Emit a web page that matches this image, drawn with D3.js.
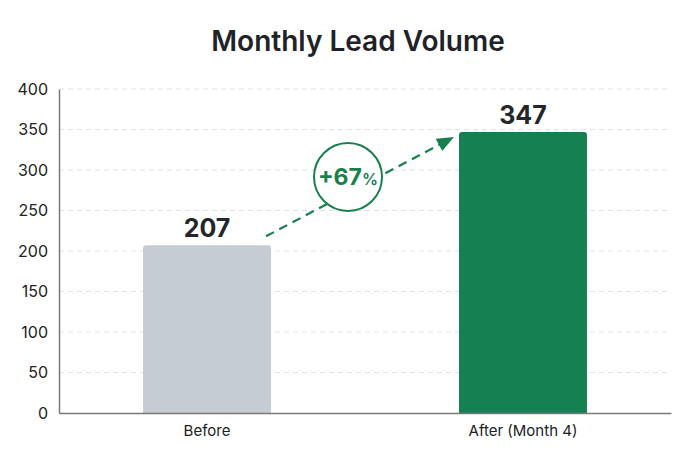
<!DOCTYPE html>
<html>
<head>
<meta charset="utf-8">
<script src="https://cdn.jsdelivr.net/npm/d3@7"></script>
<style>
  body { margin: 0; background: #fff; }
  text { font-family: Inter, "Noto Sans", sans-serif; }
</style>
</head>
<body>
<svg id="chart" width="700" height="466"></svg>
<script>
// chart data
const categories = ["Before", "After (Month 4)"];
const leads = [207, 347];
const yTicks = [0, 50, 100, 150, 200, 250, 300, 350, 400];
const changeLabel = "+67";

const barColors = ["#c6ccd4", "#158152"];
const green = "#17804c";

const margin = { top: 89, right: 29, bottom: 53, left: 59 };
const width = 700, height = 466;

let svg = d3.select("#chart");

let x = d3.scaleBand()
  .domain(categories)
  .range([margin.left, width - margin.right])
  .paddingInner(0.595)
  .paddingOuter(0.266);

let y = d3.scaleLinear()
  .domain([0, 400])
  .range([height - margin.bottom, margin.top]);

// title
svg.append("text")
  .attr("x", 358)
  .attr("y", 51)
  .attr("text-anchor", "middle")
  .attr("font-size", 28)
  .attr("font-weight", 600)
  .attr("fill", "#1f2328")
  .text("Monthly Lead Volume");

// dashed gridlines
svg.append("g")
  .selectAll("line")
  .data(yTicks.filter(d => d > 0))
  .enter()
  .append("line")
  .attr("x1", margin.left)
  .attr("x2", width - margin.right)
  .attr("y1", d => y(d))
  .attr("y2", d => y(d))
  .attr("stroke", "#e2e2e2")
  .attr("stroke-dasharray", "5,4");

// y axis
let yAxis = svg.append("g")
  .attr("transform", `translate(${margin.left},0)`)
  .call(d3.axisLeft(y).tickValues(yTicks).tickSize(0).tickPadding(11));
yAxis.select(".domain").attr("stroke", "#7a7a7a").attr("stroke-width", 1.5);
yAxis.selectAll("text")
  .attr("font-size", 16)
  .attr("fill", "#222")
  .style("font-family", "Inter, sans-serif");

// bars, rounded top corners
const r = 3;
svg.append("g")
  .selectAll("path")
  .data(leads)
  .enter()
  .append("path")
  .attr("fill", (d, i) => barColors[i])
  .attr("d", (d, i) => {
    let x0 = x(categories[i]), x1 = x0 + x.bandwidth();
    let y0 = y(d), yb = y(0);
    return `M${x0},${yb} V${y0 + r} Q${x0},${y0} ${x0 + r},${y0} H${x1 - r} Q${x1},${y0} ${x1},${y0 + r} V${yb} Z`;
  });

// value labels
svg.append("g")
  .selectAll("text")
  .data(leads)
  .enter()
  .append("text")
  .attr("x", (d, i) => x(categories[i]) + x.bandwidth() / 2)
  .attr("y", d => y(d) - 8)
  .attr("text-anchor", "middle")
  .attr("font-size", 25)
  .attr("font-weight", 700)
  .attr("fill", "#23262b")
  .text(d => d);

// x axis
let xAxis = svg.append("g")
  .attr("transform", `translate(0,${y(0)})`)
  .call(d3.axisBottom(x).tickSize(0).tickPadding(12));
xAxis.select(".domain").attr("stroke", "#7a7a7a").attr("stroke-width", 1.5);
xAxis.selectAll("text")
  .attr("font-size", 15)
  .attr("fill", "#222")
  .style("font-family", "Inter, sans-serif");

// growth arrow: from above the Before bar to just left of the After bar top
let ax0 = x(categories[0]) + x.bandwidth() - 5, ay0 = y(leads[0]) - 9;
let ax1 = x(categories[1]) - 5, ay1 = y(leads[1]) + 5;
let ang = Math.atan2(ay1 - ay0, ax1 - ax0);

svg.append("line")
  .attr("x1", ax0).attr("y1", ay0)
  .attr("x2", ax1 - 10 * Math.cos(ang)).attr("y2", ay1 - 10 * Math.sin(ang))
  .attr("stroke", green)
  .attr("stroke-width", 2.2)
  .attr("stroke-dasharray", "9,6");

// solid arrowhead
svg.append("path")
  .attr("d", () => {
    let L = 17, W = 7;
    let bx = ax1 - L * Math.cos(ang), by = ay1 - L * Math.sin(ang);
    let px = -Math.sin(ang) * W, py = Math.cos(ang) * W;
    return `M${ax1},${ay1} L${bx + px},${by + py} L${bx - px},${by - py} Z`;
  })
  .attr("fill", green);

// badge
let cx = 348, cy = 177;
svg.append("circle")
  .attr("cx", cx).attr("cy", cy).attr("r", 34)
  .attr("fill", "#fff")
  .attr("stroke", green)
  .attr("stroke-width", 2);
let badge = svg.append("text")
  .attr("x", cx)
  .attr("y", cy + 8)
  .attr("text-anchor", "middle")
  .attr("fill", green)
  .attr("font-weight", 700);
badge.append("tspan").attr("font-size", 23).text(changeLabel);
badge.append("tspan").attr("font-size", 16).attr("font-weight", 600).text("%");
</script>
</body>
</html>
